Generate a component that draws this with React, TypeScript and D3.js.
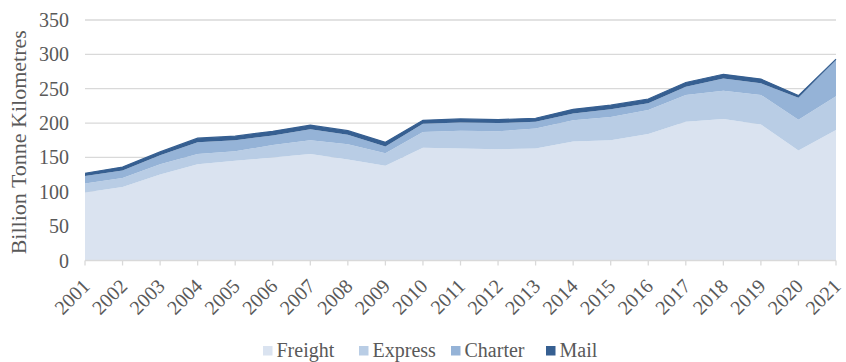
import React from "react";
import * as d3 from "d3";

const years = ["2001","2002","2003","2004","2005","2006","2007","2008","2009","2010","2011","2012","2013","2014","2015","2016","2017","2018","2019","2020","2021"];
const freight = [99,107,125,140,145,150,155,147,138,164,163,162,163,173,175,184,202,206,198,160,190];
const express = [13,13,15,15,14,18,20,22,18,23,26,26,29,31,34,35,39,41,43,45,49];
const charter = [11,11,13,17,16,14,16,14,10,12,12,12,10,10,11,10,12,18,17,32,53];
const mail = [4,5,5,6,6,6,6,6,6,5,5,5,5,6,6,6,6,6,6,3,1];
const yTicks = [0,50,100,150,200,250,300,350];
const seriesNames = ["Freight","Express","Charter","Mail"];
const colors = ["#dae3f0","#b9cde5","#95b3d7","#365f91"];

const W = 846, H = 362;
const left = 85, right = 836, top = 20, bottom = 260.5;
const font = "Liberation Serif";

export default function App() {
  const x = d3.scalePoint<string>().domain(years).range([left, right]);
  const y = d3.scaleLinear().domain([0, 350]).range([bottom, top]);
  const table = years.map((yr, i) => ({ year: yr, Freight: freight[i], Express: express[i], Charter: charter[i], Mail: mail[i] }));
  const stack = d3.stack<any>().keys(seriesNames)(table);
  const area = d3.area<any>()
    .x((d) => x(d.data.year) as number)
    .y0((d) => y(d[0]))
    .y1((d) => y(d[1]));
  const topLine = d3.line<any>().x((d) => x(d.data.year) as number).y((d) => y(d[1]));
  const legendX = [263, 359, 451, 546];
  const ts = { fontFamily: font };
  return (
    <svg width={W} height={H} style={{ position: "absolute", left: 0, top: 0 }}>
      {yTicks.map((t) => (
        <g key={t}>
          {t > 0 && <line x1={left} x2={right} y1={y(t)} y2={y(t)} stroke="#d9d9d9" strokeWidth={1.3} />}
          <text x={69} y={y(t)} dy="0.35em" textAnchor="end" fontSize={20} fill="#595959" style={ts}>{t}</text>
        </g>
      ))}
      {stack.map((s, i) => (
        <path key={s.key} d={area(s) || ""} fill={colors[i]} />
      ))}
      <path d={topLine(stack[3]) || ""} fill="none" stroke={colors[3]} strokeWidth={1.2} />
      <line x1={left} x2={right} y1={bottom} y2={bottom} stroke="#d9d9d9" strokeWidth={1.3} />
      {years.map((yr) => (
        <g key={yr}>
          <line x1={x(yr)} x2={x(yr)} y1={bottom} y2={bottom + 5} stroke="#d9d9d9" strokeWidth={1.3} />
          <text transform={`translate(${(x(yr) as number) + 1},${bottom + 22}) rotate(-45)`} textAnchor="end" dy="0.35em" fontSize={20} fill="#595959" style={ts}>{yr}</text>
        </g>
      ))}
      <text transform={`translate(26,${(top + bottom) / 2 + 2}) rotate(-90)`} textAnchor="middle" fontSize={22} fill="#595959" style={ts}>Billion Tonne Kilometres</text>
      {seriesNames.map((n, i) => (
        <g key={n}>
          <rect x={legendX[i]} y={346} width={9.5} height={9.5} fill={colors[i]} />
          <text x={legendX[i] + 13.5} y={356.5} fontSize={20} fill="#595959" style={ts}>{n}</text>
        </g>
      ))}
    </svg>
  );
}
